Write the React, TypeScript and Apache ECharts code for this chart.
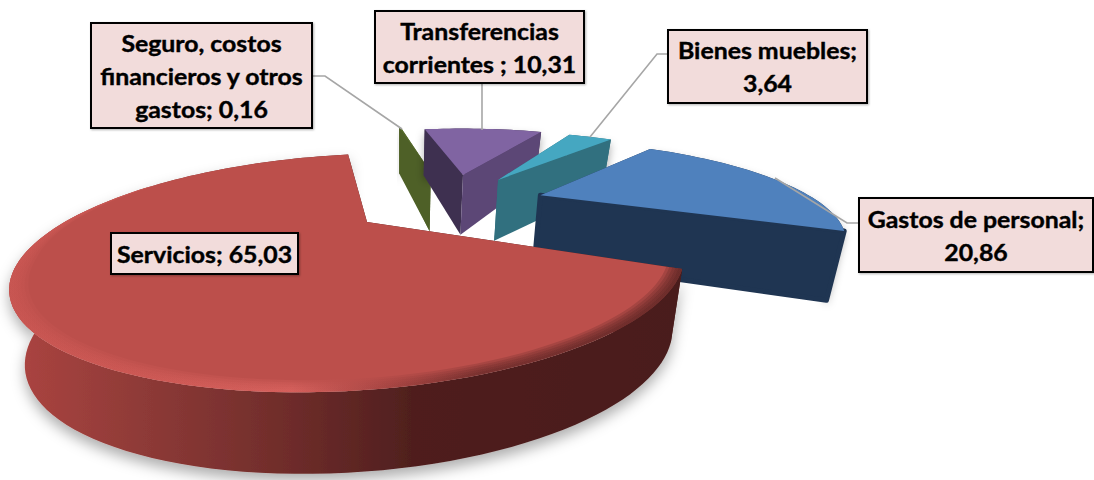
import React, { useEffect, useRef } from "react";
import * as echarts from "echarts";

const categories = ["Gastos de personal", "Servicios", "Seguro, costos financieros y otros gastos", "Transferencias corrientes ", "Bienes muebles"];
const values = [20.86, 65.03, 0.16, 10.31, 3.64];

// Style / layout tables
const explosion = [0.34, 0.355, 0.43, 0.376, 0.35];
const sliceRadius = [0.995, 0.991, 1, 1, 1];
const paintOrder = [2, 3, 4, 0, 1];
const topColors = ["#4F81BD", "#BC4F4B", "#566A2B", "#8064A2", "#45A7C1"];
const startWallColors = ["#1F3552", "#4A1D1C", "#4E6027", "#3E3050", "#31707F"];
const endWallColors = ["#1F3552", "#4A1D1C", "#4E6027", "#5C4776", "#31707F"];
const labelBoxes = [
  { x: 859, y: 198, w: 234, h: 74, wrap: 19 },
  { x: 111, y: 233, w: 187, h: 41, wrap: 30 },
  { x: 91, y: 23, w: 221, h: 105, wrap: 19 },
  { x: 375, y: 11, w: 209, h: 72, wrap: 20 },
  { x: 668, y: 30, w: 199, h: 73, wrap: 15 },
];
const leaders = [
  [[859, 223], [847, 223], [775, 178]],
  [],
  [[312, 76], [325, 76], [402, 129]],
  [[482, 83], [482, 130]],
  [[668, 54], [657, 54], [590, 137]],
];

const START_ANGLE = 38.4;
const CX = 367, CY = 222, RX = 305, KY = 98.6, PERSP = 0.43, SHEAR = 0.4;

const rad = (a: number) => (a * Math.PI) / 180;
const dir = (a: number) => [Math.sin(rad(a)), Math.cos(rad(a))];
const total = values.reduce((s, v) => s + v, 0);
const angles: { a0: number; a1: number }[] = [];
{
  let cur = START_ANGLE;
  values.forEach((v) => {
    const next = cur + (v / total) * 360;
    angles.push({ a0: cur, a1: next });
    cur = next;
  });
}
const bis = (i: number) => (angles[i].a0 + angles[i].a1) / 2;
const offset = (i: number) => {
  const d = dir(bis(i));
  const o = dir(bis(1));
  return [explosion[i] * d[0] - explosion[1] * o[0], explosion[i] * d[1] - explosion[1] * o[1]];
};
const project = (x: number, y: number) => {
  const w = 1 + PERSP * y;
  const dY = (-KY * y) / w;
  return { X: CX - SHEAR * dY + (RX * x) / w, Y: CY + dY, w };
};
const top = (x: number, y: number) => {
  const p = project(x, y);
  return [p.X, p.Y];
};
const bottom = (x: number, y: number) => {
  const p = project(x, y);
  return [p.X - (p.X - 400) * 0.04, p.Y + 100 - 32 * p.w];
};
const arcPlane = (i: number, inset: (a: number) => number = () => 0) => {
  const o = offset(i);
  const { a0, a1 } = angles[i];
  const n = Math.max(2, Math.ceil((a1 - a0) / 2));
  const pts: number[][] = [];
  for (let k = 0; k <= n; k++) {
    const a = a0 + ((a1 - a0) * k) / n;
    const d = dir(a);
    const r = sliceRadius[i] * (1 - inset(a));
    pts.push([o[0] + r * d[0], o[1] + r * d[1]]);
  }
  return pts;
};

const wallGradient = {
  type: "linear", x: 8, y: 0, x2: 683, y2: 0, global: true,
  colorStops: [
    { offset: 0, color: "#AD4541" },
    { offset: 0.2, color: "#8E3A37" },
    { offset: 0.42, color: "#6E2C2A" },
    { offset: 0.6, color: "#4F1F1E" },
    { offset: 1, color: "#4A1D1C" },
  ],
};
const rimGradient = {
  type: "linear", x: 8, y: 0, x2: 683, y2: 0, global: true,
  colorStops: [
    { offset: 0, color: "#CC5854" },
    { offset: 0.2, color: "#D25C58" },
    { offset: 0.42, color: "#DE6662" },
    { offset: 0.56, color: "#A04240" },
    { offset: 0.7, color: "#5E2524" },
    { offset: 1, color: "#4E1F1E" },
  ],
};
// rim width follows the angle: it fades out on the far side of the main slice
const rimTaper = (a: number) => Math.max(0, Math.min(1, (300 - a) / 50));

function renderSlice(params: any, api: any) {
  const i = api.value(0);
  const o = offset(i);
  const arc = arcPlane(i);
  const apex = o;
  const outer = arc[0];
  const last = arc[arc.length - 1];
  const children: any[] = [];
  const poly = (points: number[][], style: any) => ({ type: "polygon", silent: true, shape: { points }, style });
  const isMain = i === 1;
  const round = i === 0 ? { stroke: startWallColors[i], lineWidth: 5, lineJoin: "round" } : {};

  const arcWall = poly(
    [...arc.map((p) => top(p[0], p[1])), ...arc.slice().reverse().map((p) => bottom(p[0], p[1]))],
    {
      fill: isMain ? wallGradient : startWallColors[i],
      shadowBlur: isMain ? 14 : 8,
      shadowOffsetY: isMain ? 7 : 5,
      shadowColor: "rgba(0,0,0,0.32)",
    }
  );
  if (!isMain) children.push(arcWall);
  children.push(
    poly([top(apex[0], apex[1]), top(outer[0], outer[1]), bottom(outer[0], outer[1]), bottom(apex[0], apex[1])], { fill: startWallColors[i] })
  );
  children.push(
    poly([top(apex[0], apex[1]), top(last[0], last[1]), bottom(last[0], last[1]), bottom(apex[0], apex[1])], { fill: endWallColors[i], ...round })
  );
  if (isMain) children.push(arcWall);
  children.push(poly([top(apex[0], apex[1]), ...arc.map((p) => top(p[0], p[1]))], { fill: topColors[i] }));
  if (isMain) {
    [0.042, 0.034, 0.026, 0.018, 0.01].forEach((t) => {
      const inner = arcPlane(i, (a) => t * rimTaper(a));
      children.push(
        poly([...arc.map((p) => top(p[0], p[1])), ...inner.reverse().map((p) => top(p[0], p[1]))], { fill: rimGradient, opacity: 0.22 })
      );
    });
  }
  return { type: "group", children };
}

const fmt = (v: number) => v.toFixed(2).replace(".", ",");
const wrapText = (s: string, n: number) => {
  const out: string[] = [];
  let line = "";
  s.split(" ").forEach((word) => {
    const t = line ? line + " " + word : word;
    if (t.length > n && line) {
      out.push(line);
      line = word;
    } else line = t;
  });
  out.push(line);
  return out.join("\n");
};

export default function App() {
  const ref = useRef<HTMLDivElement>(null);
  useEffect(() => {
    const chart = echarts.init(ref.current!, undefined, { renderer: "svg" });
    const graphic: any[] = [];
    leaders.forEach((pts) => {
      if (pts.length)
        graphic.push({ type: "polyline", silent: true, z: 10, shape: { points: pts }, style: { stroke: "#A6A6A6", lineWidth: 1.6, fill: "none" } });
    });
    categories.forEach((name, i) => {
      const b = labelBoxes[i];
      graphic.push({
        type: "rect", silent: true, z: 11,
        shape: { x: b.x, y: b.y, width: b.w, height: b.h },
        style: { fill: "#F2DCDB", stroke: "#000000", lineWidth: 2, shadowBlur: 2, shadowOffsetX: 1, shadowOffsetY: 1, shadowColor: "rgba(0,0,0,0.3)" },
      });
      graphic.push({
        type: "text", silent: true, z: 12,
        x: b.x + b.w / 2, y: b.y + b.h / 2,
        scaleX: 1.08,
        style: {
          text: wrapText(`${name}; ${fmt(values[i])}`, b.wrap),
          fill: "#000000", align: "center", verticalAlign: "middle",
          font: 'bold 23px Lato', lineHeight: 33,
          stroke: "#000000", lineWidth: 0.4,
        },
      });
    });
    chart.setOption({
      animation: false,
      backgroundColor: "#ffffff",
      series: [
        {
          type: "custom",
          coordinateSystem: "none",
          silent: true,
          clip: false,
          renderItem: renderSlice,
          data: paintOrder.map((i) => [i, values[i]]),
        },
      ],
      graphic,
    });
    return () => chart.dispose();
  }, []);
  return <div ref={ref} style={{ position: "fixed", left: 0, top: 0, width: 1094, height: 480 }} />;
}
